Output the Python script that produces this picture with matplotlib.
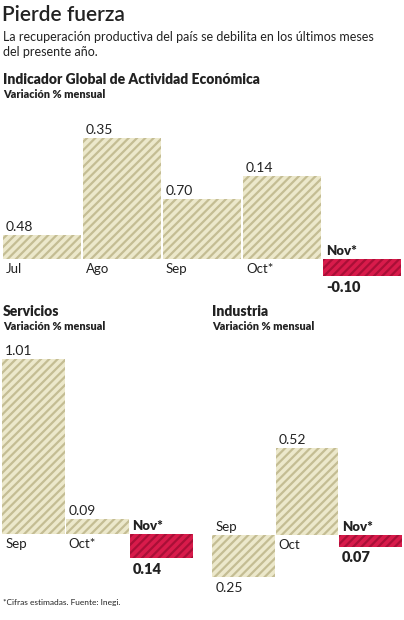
import matplotlib
matplotlib.use("Agg")
import matplotlib.pyplot as plt

# values (bar heights in picture pixels, labels as printed)
igae_months = ["Jul", "Ago", "Sep", "Oct*", "Nov*"]
igae_labels = ["0.48", "0.35", "0.70", "0.14", "-0.10"]
igae_heights = [24, 121, 60, 83, -17]

serv_months = ["Sep", "Oct*", "Nov*"]
serv_labels = ["1.01", "0.09", "0.14"]
serv_heights = [175, 15, -24]

ind_months = ["Sep", "Oct", "Nov*"]
ind_labels = ["0.25", "0.52", "0.07"]
ind_heights = [-42, 87, -12]

W, H = 404, 620
BEIGE = "#ece8cb"
STRIPE = "#c4bd93"
RED = "#d81b4b"
RED_STRIPE = "#a90f37"
TXT = "#222222"

plt.rcParams["font.family"] = ["Lato", "DejaVu Sans"]
plt.rcParams["hatch.linewidth"] = 1.6

fig = plt.figure(figsize=(W / 100, H / 100), dpi=100)
fig.patch.set_facecolor("white")


def ftext(x, y, s, **kw):
    fig.text(x / W, 1 - y / H, s, color=TXT, va="center", ha="left", **kw)


def make_ax(x0, x1, ytop, ybot, base):
    ax = fig.add_axes([x0 / W, 1 - ybot / H, (x1 - x0) / W, (ybot - ytop) / H])
    ax.set_ylim(-(ybot - base), base - ytop)
    ax.axis("off")
    return ax


def panel(ax, months, labels, heights):
    n = len(months)
    ax.set_xlim(-0.5, n - 0.5)
    for i, (m, lab, h) in enumerate(zip(months, labels, heights)):
        last = i == n - 1
        fc, hc = (RED, RED_STRIPE) if last else (BEIGE, STRIPE)
        ax.bar(i, h, width=0.985, color=fc, edgecolor=hc, linewidth=0,
               hatch="////")
        xl = i - 0.5 + 0.05
        if last:
            ax.text(xl, 8, m, fontsize=9.5, color=TXT, va="center", fontweight="heavy")
            ax.text(xl, h - 11, lab, fontsize=10.5, color=TXT, va="center",
                    fontweight="heavy")
        elif h >= 0:
            ax.text(xl, h + 8, lab, fontsize=10, color=TXT, va="center")
            ax.text(xl, -10, m, fontsize=9.5, color=TXT, va="center")
        else:
            ax.text(xl, 8, m, fontsize=9.5, color=TXT, va="center")
            ax.text(xl, h - 11, lab, fontsize=10, color=TXT, va="center")


# header
ftext(2, 15, "Pierde fuerza", fontsize=15, fontweight="semibold")
ftext(3, 37, "La recuperación productiva del país se debilita en los últimos meses",
      fontsize=9)
ftext(3, 52, "del presente año.", fontsize=9)
ftext(3, 80, "Indicador Global de Actividad Económica", fontsize=10, fontweight="heavy")
ftext(3, 95, "Variación % mensual", fontsize=7.8, fontweight="heavy")

ax1 = make_ax(2, 402, 125, 300, 259)
panel(ax1, igae_months, igae_labels, igae_heights)

ftext(3, 312, "Servicios", fontsize=10, fontweight="heavy")
ftext(3, 327, "Variación % mensual", fontsize=7.8, fontweight="heavy")
ax2 = make_ax(2, 193, 340, 598, 534)
panel(ax2, serv_months, serv_labels, serv_heights)

ftext(212, 312, "Industria", fontsize=10, fontweight="heavy")
ftext(212, 327, "Variación % mensual", fontsize=7.8, fontweight="heavy")
ax3 = make_ax(212, 402, 340, 598, 535)
panel(ax3, ind_months, ind_labels, ind_heights)

ftext(3, 603, "*Cifras estimadas. Fuente: Inegi.", fontsize=6)

fig.savefig("out.png", dpi=100)
